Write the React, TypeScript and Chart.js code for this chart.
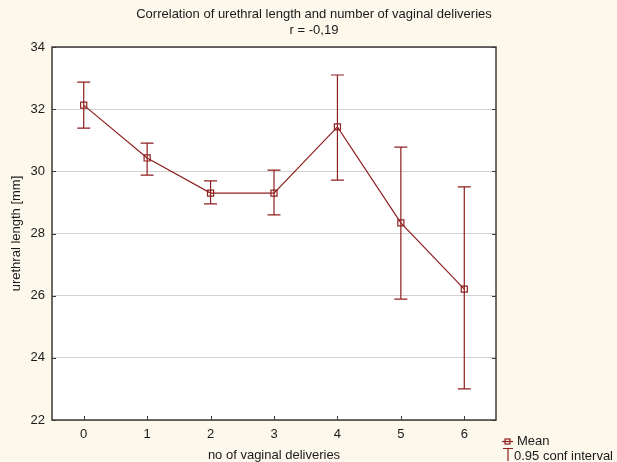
import React, { useEffect, useRef } from "react";
import { Chart, registerables } from "chart.js";

Chart.register(...registerables);

const categories = ["0", "1", "2", "3", "4", "5", "6"];
const means = [32.13, 30.43, 29.3, 29.3, 31.43, 28.34, 26.21];
const upper = [32.87, 30.91, 29.69, 30.04, 33.1, 30.78, 29.5];
const lower = [31.39, 29.88, 28.95, 28.6, 29.72, 25.89, 23.0];
const yMin = 22;
const yMax = 34;
const yStep = 2;
const titleLines = ["Correlation of urethral length and number of vaginal deliveries", "r = -0,19"];
const xAxisTitle = "no of vaginal deliveries";
const yAxisTitle = "urethral length [mm]";
const legendLabels = ["Mean", "0.95 conf interval"];

const RED = "#8e1f1f";
const BG = "#fdf8ec";
const FONT = "Arial, 'Liberation Sans', sans-serif";

const decorPlugin = {
  id: "decor",
  beforeDraw(chart: any) {
    const { ctx, chartArea: a, width, height } = chart;
    ctx.save();
    ctx.fillStyle = BG;
    ctx.fillRect(0, 0, width, height);
    ctx.fillStyle = "#ffffff";
    ctx.fillRect(a.left, a.top, a.right - a.left, a.bottom - a.top);
    ctx.restore();
  },
  beforeDatasetsDraw(chart: any) {
    const { ctx } = chart;
    const xs = chart.scales.x;
    const ys = chart.scales.y;
    ctx.save();
    ctx.strokeStyle = RED;
    ctx.lineWidth = 1.2;
    for (let i = 0; i < means.length; i++) {
      const x = xs.getPixelForValue(i);
      const yu = ys.getPixelForValue(upper[i]);
      const yl = ys.getPixelForValue(lower[i]);
      ctx.beginPath();
      ctx.moveTo(x, yu);
      ctx.lineTo(x, yl);
      ctx.moveTo(x - 6.5, yu);
      ctx.lineTo(x + 6.5, yu);
      ctx.moveTo(x - 6.5, yl);
      ctx.lineTo(x + 6.5, yl);
      ctx.stroke();
    }
    ctx.restore();
  },
  afterDraw(chart: any) {
    const { ctx, chartArea: a } = chart;
    const xs = chart.scales.x;
    const ys = chart.scales.y;
    ctx.save();
    // frame
    ctx.strokeStyle = "#3a3a3a";
    ctx.lineWidth = 1.5;
    ctx.strokeRect(a.left, a.top, a.right - a.left, a.bottom - a.top);
    // ticks
    ctx.lineWidth = 1;
    ctx.beginPath();
    for (let v = yMin; v <= yMax; v += yStep) {
      const y = Math.round(ys.getPixelForValue(v)) + 0.5;
      ctx.moveTo(a.left, y);
      ctx.lineTo(a.left + 4, y);
      ctx.moveTo(a.right, y);
      ctx.lineTo(a.right - 4, y);
    }
    for (let i = 0; i < categories.length; i++) {
      const x = Math.round(xs.getPixelForValue(i)) + 0.5;
      ctx.moveTo(x, a.bottom);
      ctx.lineTo(x, a.bottom - 4);
    }
    ctx.stroke();
    // title
    ctx.fillStyle = "#1a1a1a";
    ctx.font = `13px ${FONT}`;
    ctx.textAlign = "center";
    ctx.textBaseline = "middle";
    ctx.fillText(titleLines[0], 314, 14);
    ctx.fillText(titleLines[1], 314, 30);
    // x title
    ctx.fillText(xAxisTitle, (a.left + a.right) / 2, 455);
    // y title
    ctx.save();
    ctx.translate(16, (a.top + a.bottom) / 2);
    ctx.rotate(-Math.PI / 2);
    ctx.fillText(yAxisTitle, 0, 0);
    ctx.restore();
    // legend
    ctx.textAlign = "left";
    ctx.fillText(legendLabels[0], 517, 441);
    ctx.fillText(legendLabels[1], 514, 456);
    ctx.strokeStyle = RED;
    ctx.lineWidth = 1.2;
    ctx.beginPath();
    ctx.moveTo(502, 441.5);
    ctx.lineTo(513, 441.5);
    ctx.stroke();
    ctx.strokeRect(505, 439, 5, 5);
    ctx.beginPath();
    ctx.moveTo(503, 448.5);
    ctx.lineTo(513, 448.5);
    ctx.moveTo(508, 448.5);
    ctx.lineTo(508, 461);
    ctx.stroke();
    ctx.restore();
  },
};

export default function App() {
  const ref = useRef<HTMLCanvasElement | null>(null);
  useEffect(() => {
    if (!ref.current) return;
    const chart = new Chart(ref.current, {
      type: "line",
      data: {
        labels: categories,
        datasets: [
          {
            label: "Mean",
            data: means,
            borderColor: RED,
            borderWidth: 1.2,
            pointStyle: "rect",
            pointRadius: 4.3,
            pointBorderWidth: 1.2,
            pointBackgroundColor: "rgba(255,255,255,0)",
            pointBorderColor: RED,
            tension: 0,
            fill: false,
          },
        ],
      },
      options: {
        responsive: false,
        animation: false,
        layout: { padding: { top: 47, right: 121, left: 0, bottom: 0 } },
        plugins: {
          legend: { display: false },
          title: { display: false },
          tooltip: { enabled: false },
        },
        scales: {
          x: {
            type: "category",
            offset: true,
            grid: { display: false, drawTicks: false },
            border: { display: false },
            ticks: { color: "#1a1a1a", font: { family: FONT, size: 13 }, padding: 7 },
            afterFit: (s: any) => {
              s.height = 42;
            },
          },
          y: {
            min: yMin,
            max: yMax,
            grid: { color: "#d2d2d2", drawTicks: false, lineWidth: 1 },
            border: { display: false },
            ticks: { stepSize: yStep, color: "#1a1a1a", font: { family: FONT, size: 13 }, padding: 7 },
            afterFit: (s: any) => {
              s.width = 52;
            },
          },
        },
      },
      plugins: [decorPlugin],
    } as any);
    return () => chart.destroy();
  }, []);
  return (
    <div style={{ position: "fixed", left: 0, top: 0, width: 617, height: 462, background: BG }}>
      <canvas ref={ref} width={617} height={462} style={{ display: "block" }} />
    </div>
  );
}
